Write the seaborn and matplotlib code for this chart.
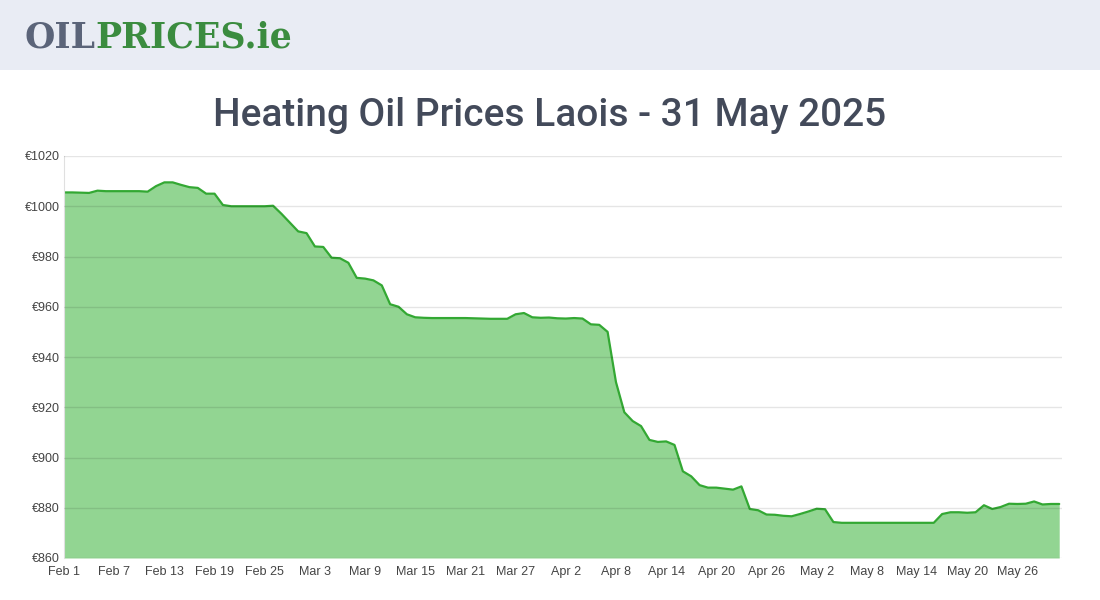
import numpy as np
import pandas as pd
import matplotlib
matplotlib.use("Agg")
import matplotlib.pyplot as plt
import seaborn as sns

# daily prices Feb 1 - May 31 2025
prices = [
    1005.5, 1005.5, 1005.4, 1005.3, 1006.2, 1006.0, 1006.0, 1006.0, 1006.0, 1006.0,
    1005.8, 1008.0, 1009.5, 1009.5, 1008.5, 1007.6, 1007.3, 1005.0, 1005.0, 1000.5,
    1000.0, 1000.0, 1000.0, 1000.0, 1000.0, 1000.2, 997.0, 993.5, 990.0, 989.3,
    984.0, 983.8, 979.5, 979.3, 977.5, 971.5, 971.2, 970.5, 968.5, 961.0,
    960.0, 957.0, 955.8, 955.6, 955.5, 955.5, 955.5, 955.5, 955.5, 955.4,
    955.3, 955.2, 955.2, 955.2, 957.0, 957.5, 955.8, 955.6, 955.7, 955.4,
    955.3, 955.5, 955.3, 953.0, 952.8, 950.0, 930.0, 918.0, 914.5, 912.5,
    907.0, 906.2, 906.4, 905.0, 894.5, 892.5, 889.0, 888.0, 888.0, 887.6,
    887.2, 888.5, 879.5, 879.0, 877.3, 877.2, 876.8, 876.6, 877.5, 878.5,
    879.6, 879.4, 874.3, 874.0, 874.0, 874.0, 874.0, 874.0, 874.0, 874.0,
    874.0, 874.0, 874.0, 874.0, 874.0, 877.5, 878.2, 878.2, 878.0, 878.2,
    881.0, 879.5, 880.3, 881.6, 881.5, 881.6, 882.5, 881.3, 881.5, 881.5,
]
dates = pd.date_range("2025-02-01", periods=len(prices), freq="D")
y_ticks = [860, 880, 900, 920, 940, 960, 980, 1000, 1020]
title = "Heating Oil Prices Laois - 31 May 2025"

df = pd.DataFrame({"date": dates, "price": prices})

sns.set_style("white")
fig = plt.figure(figsize=(11, 6), dpi=100)
fig.patch.set_facecolor("white")

# header band
fig.patches.append(plt.Rectangle((0, 1 - 70 / 600), 1, 70 / 600, transform=fig.transFigure,
                                 facecolor="#e9ecf4", edgecolor="none", zorder=0))
t1 = fig.text(24 / 1100, 1 - 38 / 600, "OIL", fontsize=25, fontweight="heavy",
              family="DejaVu Serif", color="#5b6479", va="center")
fig.canvas.draw()
bb = t1.get_window_extent()
fig.text(bb.x1 / 1100, 1 - 38 / 600, "PRICES.ie", fontsize=25, fontweight="heavy",
         family="DejaVu Serif", color="#3b8c3f", va="center")

fig.text(0.5, 1 - 115 / 600, title, fontsize=28, ha="center", va="center",
         color="#434a5a", family=["Roboto", "DejaVu Sans"], fontweight="medium")

ax = fig.add_axes([64 / 1100, 42 / 600, 998 / 1100, 402 / 600])
ax.fill_between(df["date"], df["price"], 860, color="#92d592", lw=0, zorder=1)
sns.lineplot(data=df, x="date", y="price", ax=ax, color="#33a833", lw=1.6, zorder=2)

ax.set_xlim(dates[0], dates[-1] + pd.Timedelta(hours=8))
ax.set_ylim(860, 1020)
ax.set_yticks(y_ticks)
ax.set_yticklabels([f"€{v}" for v in y_ticks])
ticks = pd.date_range("2025-02-01", "2025-05-31", freq="6D")
ax.set_xticks(ticks)
ax.set_xticklabels([f"{d.strftime('%b')} {d.day}" for d in ticks])
ax.grid(axis="y", color="#000000", alpha=0.1, lw=1)
ax.set_axisbelow(False)
for s in ["top", "right", "bottom"]:
    ax.spines[s].set_visible(False)
ax.spines["left"].set_color("#e0e0e0")
ax.tick_params(axis="both", labelsize=9, colors="#444444", length=0, pad=6)
ax.tick_params(axis="y", pad=3)
for lab in ax.get_xticklabels() + ax.get_yticklabels():
    lab.set_family("Liberation Sans")
ax.set_xlabel("")
ax.set_ylabel("")

fig.savefig("out.png", dpi=100)
